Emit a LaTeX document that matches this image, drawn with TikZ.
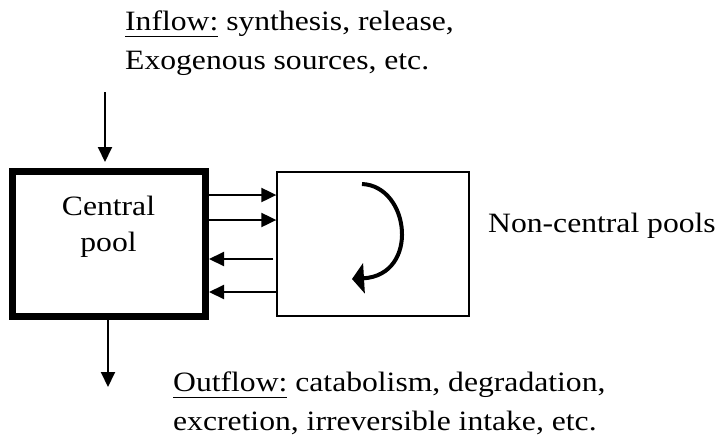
\documentclass[tikz,border=0pt]{standalone}
\usepackage{fontspec}
\setmainfont{Liberation Serif}[FakeStretch=1.13]
\usetikzlibrary{arrows.meta,positioning,calc}
\newsavebox{\ulbox}
\newcommand{\flowul}[1]{\sbox\ulbox{#1}\rlap{\rule[-7pt]{\wd\ulbox}{1.5pt}}\usebox\ulbox}
\tikzset{
  pool/.style={draw, rectangle, inner sep=0pt},
  flow/.style={-{Triangle[length=15pt,width=14pt]}, line width=2pt},
  txt/.style={inner sep=0pt, font=\fontsize{28}{39}\selectfont}
}

\begin{document}
\begin{tikzpicture}[x=1pt, y=-1pt]
    \useasboundingbox (0,0) rectangle (718,437);
    % Pools
    \node[pool, line width=7pt, minimum width=193pt, minimum height=145pt]
      (cp) at (109,244) {};
    \node[pool, line width=1.3pt, minimum width=192pt, minimum height=144pt]
      (ncp) at (373,244) {};
    % Labels (base = last line)
    \node[txt, font=\fontsize{28}{36}\selectfont, align=center, anchor=base]
      (cplbl) at (108.5,251.7) {Central\\pool};
    \node[txt, anchor=base west] (ncplbl) at (488,232.3) {Non-central pools};
    \node[txt, align=left, anchor=base west] (inlbl) at (125,69)
      {\flowul{Inflow:} synthesis, release,\\Exogenous sources, etc.};
    \node[txt, align=left, anchor=base west] (outlbl) at (173,430)
      {\flowul{Outflow:} catabolism, degradation,\\excretion, irreversible intake, etc.};
    % Inflow and outflow
    \coordinate (inTop) at (105,92);
    \coordinate (outEnd) at (108,387);
    \draw[flow, shorten >=6pt] (inTop) -- (inTop |- cp.north);
    \draw[flow] (outEnd |- cp.south) -- (outEnd);
    % Exchange between pools
    \foreach \dy in {49,24}{
      \draw[flow] ([yshift=\dy pt]cp.east) -- ([yshift=\dy pt]ncp.west);
    }
    \foreach \dy/\gap in {-15/3,-48/0}{
      \draw[flow] ([yshift=\dy pt, xshift=-\gap pt]ncp.west) -- ([yshift=\dy pt]cp.east);
    }
    % Turnover inside non-central pools
    \draw[line width=4pt, -{Triangle[length=12pt,width=30pt]}]
      (362,184) .. controls (410,186) and (420,275) .. (352,279);
\end{tikzpicture}
\end{document}
